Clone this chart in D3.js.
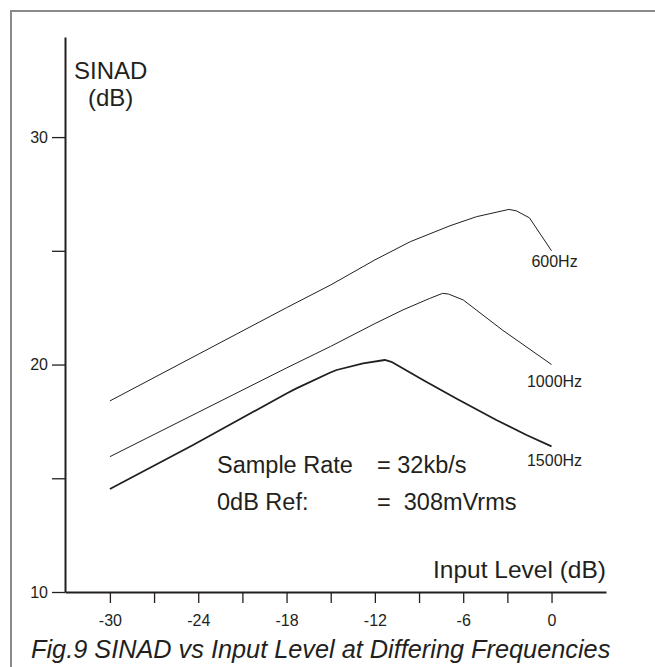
<!DOCTYPE html>
<html>
<head>
<meta charset="utf-8">
<script src="https://cdn.jsdelivr.net/npm/d3@7/dist/d3.min.js"></script>
<style>
  html, body { margin: 0; padding: 0; background: #fff; }
  svg { display: block; }
  text { font-family: "Liberation Sans", Arial, Helvetica, sans-serif; fill: #231f20; }
</style>
</head>
<body>
<svg id="chart" width="655" height="667"></svg>
<script>
// SINAD (dB) against input level (dB) for three tone frequencies
const level600  = [-30, -24, -18, -15, -12, -9.6, -6.9, -5.1, -2.9, -2.4, -1.5, 0];
const sinad600  = [18.4, 20.45, 22.5, 23.5, 24.6, 25.4, 26.1, 26.5, 26.82, 26.76, 26.45, 25.0];

const level1000 = [-30, -24, -18, -15, -12, -10.1, -8.3, -7.4, -7.0, -6.0, -3.3, 0];
const sinad1000 = [15.95, 17.9, 19.85, 20.8, 21.8, 22.4, 22.9, 23.13, 23.1, 22.84, 21.5, 20.0];

const level1500 = [-30, -24.35, -18, -17.33, -15.06, -14.6, -12.8, -11.33, -10.88, -8.73, -6.47, -3.75, -1.7, 0];
const sinad1500 = [14.53, 16.46, 18.73, 18.95, 19.64, 19.76, 20.05, 20.2, 20.12, 19.32, 18.51, 17.56, 16.9, 16.4];

const seriesNames = ["600Hz", "1000Hz", "1500Hz"];

const xTicks = [-30, -27, -24, -21, -18, -15, -12, -9, -6, -3, 0];
const xTickLabels = [-30, -24, -18, -12, -6, 0];
const yTicks = [10, 15, 20, 25, 30];
const yTickLabels = [10, 20, 30];

const svg = d3.select("#chart");
const ink = "#231f20";

// outer frame (top and left edges visible)
svg.append("rect")
  .attr("x", 11).attr("y", 11)
  .attr("width", 700).attr("height", 700)
  .attr("fill", "none").attr("stroke", "#8a8a8a").attr("stroke-width", 2);

const x = d3.scaleLinear().domain([-33.05, 3.7]).range([65, 606]);
const y = d3.scaleLinear().domain([10, 34.4]).range([592, 37]);

// y axis
const yAxis = d3.axisLeft(y)
  .tickValues(yTicks)
  .tickSize(13)
  .tickSizeOuter(0)
  .tickPadding(4)
  .tickFormat(d => yTickLabels.includes(d) ? d : "");
const gy = svg.append("g").attr("transform", "translate(65,0)").call(yAxis);
gy.select(".domain").attr("stroke", ink).attr("stroke-width", 2);
gy.selectAll(".tick line").attr("stroke", ink).attr("stroke-width", 1.3);
gy.selectAll(".tick text")
  .attr("font-size", 16)
  .attr("font-family", "Liberation Sans, Arial, sans-serif")
  .attr("fill", ink);

// x axis
const xAxis = d3.axisBottom(x)
  .tickValues(xTicks)
  .tickSize(11)
  .tickSizeOuter(0)
  .tickPadding(12)
  .tickFormat(d => xTickLabels.includes(d) ? d : "");
const gx = svg.append("g").attr("transform", "translate(0,592)").call(xAxis);
gx.select(".domain").attr("stroke", ink).attr("stroke-width", 2.2);
gx.selectAll(".tick line").attr("stroke", ink).attr("stroke-width", 1.3);
gx.selectAll(".tick text")
  .attr("font-size", 16)
  .attr("font-family", "Liberation Sans, Arial, sans-serif")
  .attr("fill", ink);

// curves
const line = d3.line().x(d => x(d[0])).y(d => y(d[1]));
const series = [
  { name: seriesNames[0], pts: d3.zip(level600, sinad600), w: 1.0, dy: 16 },
  { name: seriesNames[1], pts: d3.zip(level1000, sinad1000), w: 1.0, dy: 22 },
  { name: seriesNames[2], pts: d3.zip(level1500, sinad1500), w: 1.8, dy: 20 }
];

series.forEach(s => {
  svg.append("path")
    .datum(s.pts)
    .attr("d", line)
    .attr("fill", "none")
    .attr("stroke", ink)
    .attr("stroke-width", s.w)
    .attr("stroke-linejoin", "round");
  const last = s.pts[s.pts.length - 1];
  svg.append("text")
    .attr("x", x(last[0]) + 3)
    .attr("y", y(last[1]) + s.dy)
    .attr("text-anchor", "middle")
    .attr("font-size", 16)
    .text(s.name);
});

// axis titles
svg.append("text").attr("x", 74).attr("y", 79).attr("font-size", 24).text("SINAD");
svg.append("text").attr("x", 88).attr("y", 106).attr("font-size", 24).text("(dB)");
svg.append("text").attr("x", 606).attr("y", 578).attr("text-anchor", "end")
  .attr("font-size", 24.5).text("Input Level (dB)");

// test conditions
const notes = [
  ["Sample Rate", "= 32kb/s"],
  ["0dB Ref:", "=  308mVrms"]
];
notes.forEach((n, i) => {
  svg.append("text").attr("x", 217).attr("y", 473 + i * 37).attr("font-size", 23.5).text(n[0]);
  svg.append("text").attr("x", 377).attr("y", 473 + i * 37).attr("font-size", 23.5)
    .attr("xml:space", "preserve").style("white-space", "pre").text(n[1]);
});

// caption
svg.append("text").attr("x", 31).attr("y", 658)
  .attr("font-size", 25.3).attr("font-style", "italic")
  .text("Fig.9 SINAD vs Input Level at Differing Frequencies");
</script>
</body>
</html>
